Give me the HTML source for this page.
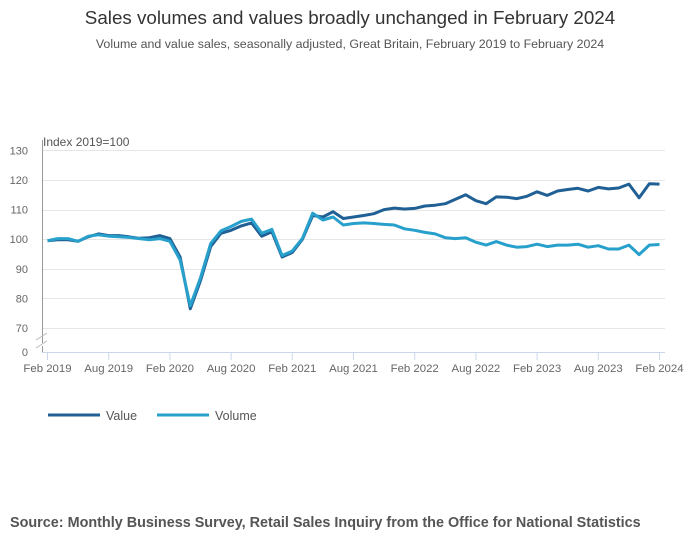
<!DOCTYPE html>
<html><head><meta charset="utf-8"><style>
body{margin:0;background:#fff;font-family:"Liberation Sans",sans-serif;}
#wrap{position:relative;width:700px;height:549px;overflow:hidden;}
</style></head><body>
<div id="wrap">
<svg id="chart" width="700" height="549" xmlns="http://www.w3.org/2000/svg">
<text x="350" y="24" text-anchor="middle" font-size="18.8" fill="#333">Sales volumes and values broadly unchanged in February 2024</text>
<text x="350" y="48" text-anchor="middle" font-size="12.4" fill="#555">Volume and value sales, seasonally adjusted, Great Britain, February 2019 to February 2024</text>
<text x="43" y="146" font-size="12" fill="#555">Index 2019=100</text>
<g id="grid"></g>
<g id="yticks"></g>
<g id="xticks"></g>
<line x1="42.5" y1="140" x2="42.5" y2="343" stroke="#999"/>
<line x1="42.5" y1="346" x2="42.5" y2="353" stroke="#999"/>
<line x1="36" y1="340" x2="47" y2="333" stroke="#bbb"/>
<line x1="36" y1="348" x2="47" y2="341" stroke="#bbb"/>
<line x1="42" y1="352.5" x2="665" y2="352.5" stroke="#ccd6eb"/>
<g id="series"></g>
<line x1="48" y1="415" x2="100" y2="415" stroke="#206095" stroke-width="3"/>
<text x="106" y="420" font-size="12.5" fill="#555">Value</text>
<line x1="157" y1="415" x2="209" y2="415" stroke="#27a0cc" stroke-width="3"/>
<text x="215" y="420" font-size="12.5" fill="#555">Volume</text>
<text x="10" y="527" font-size="14.4" font-weight="bold" fill="#555">Source: Monthly Business Survey, Retail Sales Inquiry from the Office for National Statistics</text>
</svg>
</div>
<script>
const valueSeries=[99.5,99.8,99.8,99.3,100.8,101.8,101.2,101.2,100.8,100.3,100.5,101.2,100.2,
94,76.5,86,97.5,102,103,104.5,105.5,101,102.5,94,95.5,
100,108,107.5,109.3,107,107.5,108,108.6,110,110.5,110.2,110.4,
111.2,111.5,112,113.5,115,113,112,114.3,114.2,113.7,114.5,116,
114.8,116.3,116.8,117.2,116.3,117.5,117,117.3,118.6,114,118.7,118.6];
const volumeSeries=[99.5,100.2,100.2,99.3,101,101.5,101,100.8,100.6,100.2,99.8,100.2,99.3,
93,77.5,87,98.5,102.8,104.3,106,106.8,102,103.3,94.5,96,
100.3,108.8,106.5,107.5,104.8,105.3,105.5,105.3,105,104.8,103.5,103,
102.3,101.8,100.5,100.2,100.5,99,98,99.2,98,97.3,97.5,98.3,
97.5,98,98,98.3,97.3,97.8,96.7,96.7,98,94.8,98,98.2];
const yTicks=[70,80,90,100,110,120,130];
const xTickLabels=["Feb 2019","Aug 2019","Feb 2020","Aug 2020","Feb 2021","Aug 2021","Feb 2022","Aug 2022","Feb 2023","Aug 2023","Feb 2024"];
const ns="http://www.w3.org/2000/svg";
const x0=47.5,dx=10.2;
function xs(i){return x0+i*dx;}
function ys(v){return 328+(70-v)*2.96;}
const grid=document.getElementById('grid'),yt=document.getElementById('yticks'),xt=document.getElementById('xticks'),sg=document.getElementById('series');
yTicks.forEach(t=>{
 const l=document.createElementNS(ns,'line');
 l.setAttribute('x1',42);l.setAttribute('x2',665);l.setAttribute('y1',Math.round(ys(t))+0.5);l.setAttribute('y2',Math.round(ys(t))+0.5);l.setAttribute('stroke','#e6e6e6');
 
 
 grid.appendChild(l);
 const tx=document.createElementNS(ns,'text');
 tx.setAttribute('x',28);tx.setAttribute('y',ys(t)+4);tx.setAttribute('text-anchor','end');tx.setAttribute('font-size','11');tx.setAttribute('fill','#666');tx.textContent=t;
 
 
 yt.appendChild(tx);
});
const z=document.createElementNS(ns,'text');
z.setAttribute('x',28);z.setAttribute('y',356);z.setAttribute('text-anchor','end');z.setAttribute('font-size','11');z.setAttribute('fill','#666');z.textContent='0';


yt.appendChild(z);
xTickLabels.forEach((lab,k)=>{
 const x=xs(k*6);
 const l=document.createElementNS(ns,'line');
 l.setAttribute('x1',x);l.setAttribute('x2',x);l.setAttribute('y1',352);l.setAttribute('y2',360);l.setAttribute('stroke','#ccd6eb');
 
 
 xt.appendChild(l);
 const tx=document.createElementNS(ns,'text');
 tx.setAttribute('x',x);tx.setAttribute('y',372);tx.setAttribute('text-anchor','middle');tx.setAttribute('font-size','11.4');tx.setAttribute('fill','#666');tx.textContent=lab;
 
 
 xt.appendChild(tx);
});
function line(data,color,name){
 const p=document.createElementNS(ns,'polyline');
 p.setAttribute('points',data.map((v,i)=>xs(i).toFixed(1)+','+ys(v).toFixed(1)).join(' '));
 p.setAttribute('fill','none');p.setAttribute('stroke',color);p.setAttribute('stroke-width','3');p.setAttribute('stroke-linejoin','round');
 
 
 sg.appendChild(p);
}
line(valueSeries,'#206095','value-line');
line(volumeSeries,'#27a0cc','volume-line');
</script>
</body></html>
